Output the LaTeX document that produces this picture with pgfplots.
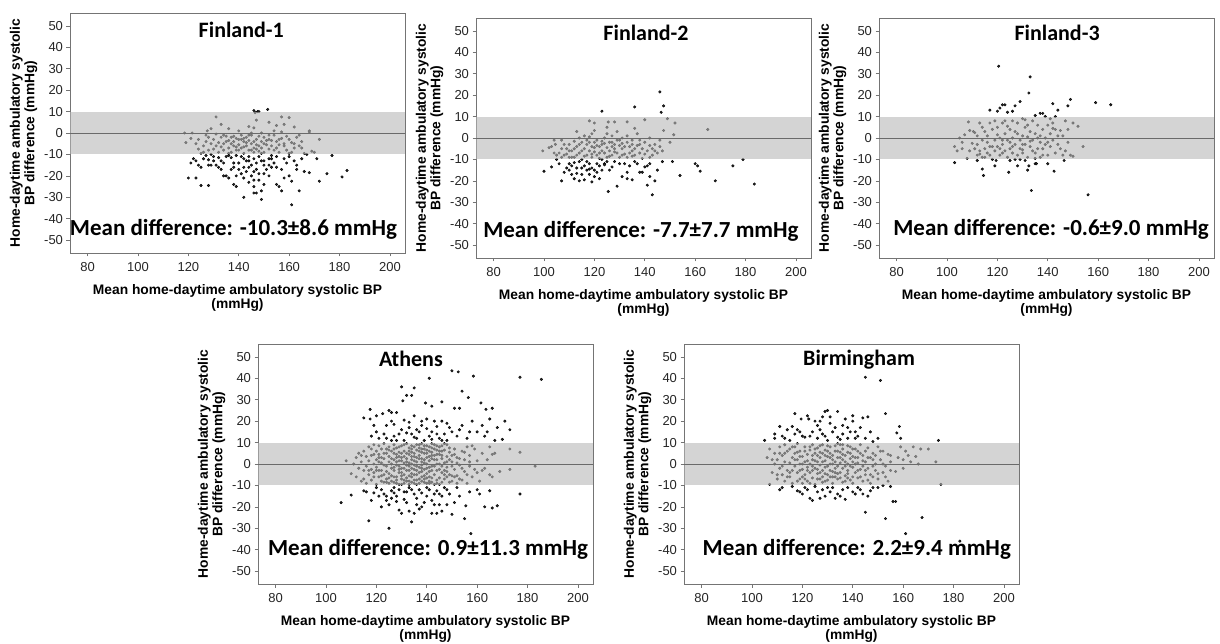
\documentclass[border=0pt]{standalone}
\usepackage{fontspec}
\setmainfont{Liberation Sans}
\newfontfamily\calibri{Carlito}
\usepackage{pgfplots}
\pgfplotsset{compat=1.18}

\definecolor{ptcol}{HTML}{2A2A2A}
\definecolor{bandcol}{HTML}{B8B8B8}
\definecolor{framecol}{HTML}{747474}
\definecolor{zerocol}{HTML}{6A6A6A}

\pgfplotsset{
  bland/.style={
    scale only axis, width=335pt, height=240pt,
    xmin=73, xmax=206, ymin=-56, ymax=56,
    clip marker paths=true,
    xtick={80,100,...,200}, ytick={-50,-40,...,50},
    axis line style={framecol, line width=0.8pt},
    tick pos=left, tick align=outside, major tick length=3.5pt,
    tick style={framecol, line width=0.6pt},
    tick label style={font=\fontsize{13}{15}\selectfont, text=black!85},
    xticklabel style={yshift=-2pt},
    /pgf/number format/assume math mode=true,
    xlabel={Mean home-daytime ambulatory systolic BP\\(mmHg)},
    ylabel={Home-daytime ambulatory systolic\\BP difference (mmHg)},
    label style={font=\bfseries\fontsize{13.8}{14.5}\selectfont, align=center},
    xlabel style={yshift=-6pt},
  },
  dk/.style={only marks, mark=*, mark size=1.3pt, mark options={draw=none, fill=ptcol}},
  band/.style={draw=none, fill=bandcol, fill opacity=0.6},
  zero/.style={zerocol, line width=0.9pt},
}
\tikzset{
  ttl/.style={font=\calibri\bfseries\fontsize{22}{24}\selectfont, anchor=base},
  mdiff/.style={font=\calibri\bfseries\fontsize{23}{25}\selectfont, anchor=base},
}
% points, then the +-10 band laid over them, then the zero line
\newcommand\bapanel[1]{%
  \addplot[dk] coordinates {#1};
  \addplot[band] coordinates {(73,-10)(206,-10)(206,10)(73,10)};
  \addplot[zero] coordinates {(73,0)(206,0)};
}

\begin{document}
\begin{tikzpicture}
\useasboundingbox (0,0) rectangle (1220pt,-643pt);

% Finland-1
\begin{axis}[bland, at={(70pt,-13pt)}, anchor=north west]
\bapanel{
(146,10.5)(147.5,10)(146.5,9.5)(148,10)(151.5,11)(131,7.5)(157,7.5)(160,7.2)(133,4)(129,2)
(127.5,1)(147,6)(155,3.5)(158,4)(162,2.8)(144,3)(146,2.4)(154,1)(168,1)(118.5,0)
(121.5,0)(145,0)(149,0)(157,0.5)(164,-1)(172,-3)(168,0.5)
(119,-4.5)(121,-2.5)(123,-5)(124,-7.5)(125,-9.5)(126,-6)(127,-4)(128,-8)(129,-10)(130,-3)
(131,-6)(132,-9)(133,-2)(134,-5)(134,-8)(135,-1.5)(136,-3.5)(136,-7)(137,-2)(137,-9)
(138,-4)(138,-6)(139,-2.5)(139,-8)(140,-3)(140,-5.5)(141,-1)(141,-7)(142,-4)(142,-9.5)
(143,-2)(143,-6)(144,-3.5)(144,-8)(145,-1)(145,-5)(146,-7)(146,-9)(147,-3)(147,-5.5)
(148,-1.5)(148,-8.5)(149,-4)(149,-7)(150,-2)(150,-9)(151,-5.5)(152,-3)(152,-7.5)(153,-6)
(154,-1)(155,-7)(155,-4)(156,-9)(157,-2.5)(158,-6)(158,-5)(159,-8)(160,-3)(160,-9.5)
(161,-4.5)(162,-7)(163,-2)(164,-6)(165,-7)(166,-9.5)(167,-10)(169,-8.5)(170,-9)(127,-1)
(131,-0.5)(135,-4)(139,-6.5)(143,-4.5)(147,-7.5)(151,-3.5)(156,-5.5)(162,-5)(137,-5)(141,-3)
(145,-8)(133,-6.5)(129,-5)
(124,-3)(126,-9)(128,-2)(130,-7.5)(132,-4.5)(134,-1)(136,-9.5)(138,-1.5)(140,-8)(142,-6.5)
(144,-1)(146,-4)(148,-6)(150,-5)(152,-1)(154,-8)(156,-3)(159,-1.5)(161,-9)(165,-4)
(153,-3.5)(149,-9.5)(140,1)(136,2)(152,5)(142,-2.5)
(120,-21)(123,-21)(125,-24.5)(128,-24.5)(124,-15)(125,-16)(129,-15)(131,-15)(133,-13)(134,-20)
(135,-20)(137,-17)(138,-24)(139,-25)(138,-14)(140,-14)(142,-12)(142,-16)(143,-18)(144,-23)
(145,-20)(146,-22)(146,-28)(147,-28)(148,-19)(149,-27)(149,-31)(150,-24)(150,-19)(152,-15)
(153,-16)(155,-24)(156,-25)(157,-17)(157,-27)(160,-20)(161,-22.5)(161,-33.5)(163,-17)(164,-27)
(166,-18)(168,-18.5)(172,-22.5)(175,-19)(177,-10.5)(181,-20.5)(183,-17.5)(142,-30)(150,-13)(147,-14)
(153,-12)(126,-12)(127,-10.5)(130,-11)(132,-11.5)(134,-14)(136,-10.5)(137,-11.5)(139,-10.5)(141,-11)
(143,-13)(144,-11)(145,-15)(146,-12)(147,-17)(148,-11)(149,-13)(151,-17)(153,-10.5)(154,-14)
(155,-16)(158,-12)(160,-11)(163,-15)(165,-12)(122,-12)(123,-13)(128,-15)(136,-21)(140,-17)
(141,-19)(144,-16)(146,-25)(148,-22)(152,-20)(158,-21)(162,-13)(171,-12)(128,-12.5)(132,-16)
(138,-16)(133,-17)(135,-11)(139,-20)(142,-21)(144,-13)(146,-18)(150,-15)(152,-12)(155,-11)
(159,-14)(121,-14)(130,-13)
}
\node[ttl] at (axis cs:141,44.7) {Finland-1};
\node[mdiff] at (axis cs:137.9,-47.7) {Mean difference: -10.3±8.6 mmHg};
\end{axis}

% Finland-2
\begin{axis}[bland, at={(476pt,-18pt)}, anchor=north west]
\bapanel{
(146,21.5)(123,12.5)(136,14.5)(147.5,15)(146.5,12)(149,9)(140,8.5)(152,7)(165,4)(147.5,3.5)
(151.5,1.5)(136,4.5)(133,7.5)(128,7.5)(125.5,7.5)(118,8)(120,7)(125,5)(113,3)(120,3.5)
(99.5,-6)(103,-4)(104,-1)(104.5,-3)(105,-8)(107,-1)(107,-5)(108,-8)(109,-7.5)(110,-3)
(111,-6)(112,-9)(112,-1.5)(113,-4)(114,-7)(114,0)(115,-2)(115,-10)(116,-5)(116,1)
(117,-8)(117,-3)(118,-6)(118,0.5)(119,-4)(119,-9)(120,-2)(120,-6.5)(121,-1)(121,-8)
(122,-4)(122,-9.5)(123,-3)(123,-6)(124,0)(124,-7)(125,-4.5)(125,-9)(126,-2)(126,-6)
(127,1)(127,-8)(128,-3)(128,-5)(129,-1)(129,-7)(130,-3.5)(130,-9)(131,-5)(131,0)
(132,-7.5)(133,-2)(133,-9)(134,-4)(135,-6)(135,-1)(136,-8)(137,-3.5)(138,-1)(138,-7)
(139,-5)(140,-2)(141,-6)(142,-9)(142,0)(143,-5)(144,-3)(145,-7)(146,-1)(146,-4)
(105,-10)(109,-5)(113,-8)(117,-1)(121,-3.5)(125,2)(129,3)(133,1)(137,2)(110,-9)
(106,-7)(102,-4.5)(119,2)(123,-10)(127,-4)(131,-8)(135,-3)(139,-9.5)(143,-8)(150,-2)
(147,-6)
(104,-7)(108,-3)(110,-6)(112,-5)(114,-3)(116,-8.5)(118,-2)(120,-4.5)(122,-7)(124,-2.5)
(126,-8.5)(128,-6.5)(130,-1)(132,-4)(134,-7)(136,-5)(138,-3)(140,-7.5)(142,-3.5)(144,-6)
(115,-6)(119,-7.5)(123,-1.5)(127,-2)(131,-2.5)(135,-8.5)(111,-9)(107,-9)
(100,-15.5)(103,-13.5)(107,-20)(108,-16)(110,-12)(111,-17)(112,-19)(113,-14)(114,-20)(115,-17)
(116,-19.5)(117,-15)(118,-12)(119,-20.5)(120,-15)(121,-16)(122,-13)(124,-12)(125.5,-25)(126,-15)
(128,-11)(129,-22.5)(131,-18)(132,-12)(133,-16)(135,-19.5)(137,-12)(138,-16)(140,-13.5)(141,-22)
(142,-18)(143,-26.5)(144,-20)(145,-15)(147,-11)(151,-11)(154,-17.5)(160,-12)(162,-15.5)(168,-20)
(175,-13)(179,-10)(183.5,-21.5)(161,-13)(109,-14)(111,-13)(113,-16.5)(114,-11)(116,-13)(118,-17)
(119,-14)(120,-18)(112,-11.5)(106,-12)(122,-19)(127,-13.5)(130,-12)(133,-19)(139,-16)(141,-13)
(124,-12.5)(117,-11)(110,-15)(115,-14)(118,-14.5)(121,-12)(123,-15)(125,-11)(134,-13)(136,-11)
(142,-12)
}
\node[ttl] at (axis cs:140.5,45.5) {Finland-2};
\node[mdiff] at (axis cs:138.5,-46.3) {Mean difference: -7.7±7.7 mmHg};
\end{axis}

% Finland-3
\begin{axis}[bland, at={(879pt,-18pt)}, anchor=north west]
\bapanel{
(120.5,33.5)(133,28.5)(132.5,21)(122,15.5)(123,15.5)(124,12)(126,12.5)(120,12.5)(117,13)(129,17)
(127,15)(142,16)(148,15)(149,18)(159,16.5)(165,15.5)(137,11.5)(138,11.5)(135,10.5)(143,10)
(144,13)(121,14)(130,9)
(103,-4)(104,-6)(105,0)(106,-2)(107,1.5)(108,-9.5)(108.5,7.5)(109,-6)(110,-2.5)(110.5,3)
(111,2.5)(112,-8)(112,-3)(113,-6)(113,7)(114,-1)(114,-9)(115,3)(115,-5)(116,-7)
(116,1)(117,-4)(117,7)(118,-10)(118,4)(119,-1)(119,-6)(120,5)(120,-4)(121,-8)
(121,0)(122,-3)(122,7)(123,-6)(123,2)(124,-1)(124,-9)(125,4)(125,-5)(126,-7)
(126,0)(127,3)(127,-3)(128,-8)(128,7)(129,-1)(129,-5)(130,1)(130,-7)(131,5)
(131,-3)(132,-9)(132,0.5)(133,-4)(133,3)(134,-1)(134,8)(135,-7)(135,2)(136,-5)
(136,6)(137,-2)(137,-9)(138,4)(138,-5)(139,0)(139,-3)(140,6)(140,-8)(141,2)
(141,-4)(142,7)(142,-1)(143,4)(143,-7)(144,1)(145,3.5)(145,-5)(146,-8)(147,-6)
(147,8)(148,4)(149,-8)(150,7)(150,-8.5)(152,5.5)(154,-4)(119,8)(123,8)(127,-10)
(131,8.5)(135,-9.5)(139,10)(115,-9)(111,-5)(121,-5)(125,-2)(129,-10)(133,-1.5)(137,1)
(141,9)(113,-7.5)(117,-8)
(106,-5)(109,3.5)(112,1)(114,5)(116,-2)(118,-4)(120,1.5)(122,-7)(124,5.5)(126,-4)
(128,2)(130,-3)(132,6)(134,-6)(136,0)(138,-8)(140,-2)(142,4.5)(144,-3)(146,1)
(148,-2)(130,-5.5)(126,8)(122,-1)
(103,-11.5)(114,-14.5)(114.5,-17.5)(119,-13)(124.5,-16)(128,-13)(132,-15)(132.5,-13)(133.5,-24.5)(135,-12)
(140,-12)(142.5,-15.5)(156,-26.5)(119.5,-10.5)(125,-10.5)(131,-10.5)(135.5,-12)(146.5,-10.5)(112,-10.5)
}
\node[ttl] at (axis cs:143.7,45.3) {Finland-3};
\node[mdiff] at (axis cs:141.3,-45.7) {Mean difference: -0.6±9.0 mmHg};
\end{axis}

% Athens
\begin{axis}[bland, at={(258pt,-344pt)}, anchor=north west]
\bapanel{
(150,43.5)(152.5,43)(158.5,41)(141,40)(177,40.5)(185.5,39.5)(130,36)(135,35.5)(154,34)(132,32)
(134,32)(156.5,31)(130.5,29.5)(139.5,28.5)(146,29)(161.5,28.5)(142,27)(163.5,25.5)(166,26)(151,26)
(153,26)(117.5,25.5)(125,25)(122.5,23.5)(128,24)(120,22.5)(126,24)(135,22.5)(115,21.5)(117.5,21)
(131,20.5)(133,19.5)(140,21)(143,20)(146,20)(148,19)(158,20)(165,21)(171,20)(173,16)
(168,17)(124,18)(127,18.5)(138,18)(144,17.5)(130,16)(137,15)(142,15)(147,14)(150,15)
(160,15)(164,15)(129,14)(134,14)(141,13)(118,13)(121,12)(124,12)(128,11)(131,11)
(136,12)(139,11)(145,12)(148,11)(152,13)(156,12)(163,13)(167,11)(170,11.5)(133,17)
(138,20)(154,18)(126,20)(119,18)
(123,14)(127,13)(132,14.5)(136,16)(140,16.5)(144,14)(149,17)(153,16)(157,15)(162,18)
(135,12.5)(126,11)(120,15)(142,11.5)(146,11)
(108,1.5)(110,-4.5)(111,0)(112,3)(112,-6)(113,-2)(113,5)(114,-8)(114,1)(115,-3)
(115,6)(116,-9)(116,-1)(116,3.5)(117,8)(117,-5)(117,1.5)(118,-2.5)(118,4)(118,-7.5)
(119,9)(119,0)(119,-4)(120,6)(120,-9.5)(120,2)(120,-1.5)(121,-6)(121,4.5)(121,8.5)
(122,-3)(122,0.5)(122,7)(122,-8)(123,2.5)(123,-5)(123,9.5)(124,-1)(124,5)(124,-7)
(124,-3.5)(125,1)(125,8)(125,-9)(125,3.5)(126,-2)(126,6)(126,-5.5)(126,0)(127,9)
(127,-8.5)(127,2)(127,-3)(128,4.5)(128,-6)(128,7.5)(128,-0.5)(129,-9.5)(129,1.5)(129,5.5)
(129,-4)(130,8.5)(130,-2)(130,3)(130,-7)(131,0.5)(131,6)(131,-5)(131,-9)(132,2.5)
(132,9.5)(132,-3)(132,-6.5)(133,4.5)(133,-1)(133,7.5)(133,-8)(134,0)(134,5.5)(134,-4.5)
(134,2)(135,-7.5)(135,8)(135,-2.5)(135,3.5)(136,-9.5)(136,1)(136,6.5)(136,-5)(137,4)
(137,-1.5)(137,9)(137,-7)(138,2.5)(138,-3.5)(138,7)(138,-0.5)(139,-8.5)(139,5)(139,0.5)
(139,-5.5)(140,8.5)(140,-2)(140,3)(140,-6.5)(141,1.5)(141,6)(141,-9)(141,-3.5)(142,4)
(142,-1)(142,9.5)(143,-5)(143,2)(143,7)(144,-7.5)(144,0)(144,4.5)(145,-2.5)(145,8)
(145,-9.5)(146,2.5)(146,-4)(146,6)(147,0.5)(147,-7)(148,3.5)(148,-1.5)(148,9)(149,-5)
(149,5.5)(150,1)(150,-8)(151,-2.5)(151,7)(152,3)(152,-5.5)(153,-0.5)(154,6)(154,-7.5)
(155,2)(155,-3.5)(156,8)(156,-9)(157,-1)(157,4)(158,-6)(159,7)(160,1.5)(160,-4)
(161,-8)(162,5)(163,-2)(165,-5)(165,8)(166,4.5)(166,-6)(167,5)(169,-3.5)(173,7)
(173,-2.5)(183,-1)(177,5.5)(130,-4)(134,-6)(138,5.5)(142,-6.5)(136,3)(132,-0.5)(128,1)
(140,0)(144,-3)(126,-8)(124,7)(122,3)(146,8.5)(148,-6)(150,4)(152,-9)
(131,3.5)(133,-3)(135,1.5)(137,-4)(139,2)(141,-1.5)(143,4)(129,-1)(127,5)(125,-4.5)
(123,-0.5)(121,1)(134,8.5)(136,-7.5)(138,9.5)(140,-9)(142,2.5)(144,6.5)(146,-1)(148,1)
(132,5)(130,-5.5)(128,-7.5)(134,-8.5)(136,9)(138,-6)(140,5)(142,7.5)(144,-9)(133,0.5)
(137,6)(139,-2.5)(141,3.5)(135,-5)(131,-2)(129,8)(127,-6)(145,4.5)(147,-3)(149,2)
(114,4)(115,-7)(117,-3)(118,7)(119,-6)(120,-3)(121,3)(122,-5.5)(123,5)(124,-8.5)
(125,6.5)(126,2.5)(127,-1.5)(128,3)(128,-9)(129,-2.5)(130,1.5)(130,5)(131,-7.5)(131,9)
(132,-8)(132,1)(133,-5.5)(133,6)(134,3.5)(134,-2)(135,5)(135,-9)(136,-1)(136,-3)
(137,2.5)(137,7.5)(138,-8)(138,1)(139,7)(139,-7)(140,-4.5)(140,6.5)(141,-6)(141,8)
(142,-3)(142,5.5)(143,-9.5)(143,-1)(144,2)(144,8.5)(145,-6.5)(145,0)(146,-8.5)(146,4)
(147,-5)(147,6.5)(148,-3.5)(149,-8.5)(149,7.5)(150,-5.5)(150,-1)(151,4.5)(151,-6)(152,0.5)
(153,2.5)(153,-7)(154,-2)(155,5.5)(156,-5)(157,1)(158,8.5)(159,-2.5)(162,-3)(164,2)
(129,3.5)(127,7)(125,-6.5)(123,-8.5)(121,-3)(119,4.5)(133,-9.5)(135,-0.5)(137,-9)(139,8.5)
(141,-8)(143,9)(145,6)(147,9.5)(130,-9.5)(134,7)(138,-2)(142,-8.5)
(106,-18)(110,-14.5)(115,-12.5)(117,-26.5)(125,-30)(122,-20)(126,-16)(128,-17.5)(130,-23)(133,-22)
(134,-27)(136,-16)(138,-20)(140,-15)(142,-23)(143,-19)(144,-23)(146,-22)(148,-19)(150,-23.5)
(155,-25.5)(155.5,-19.5)(157.5,-32.5)(161,-14)(163,-20)(166,-20.5)(168,-19.5)(177,-14)(160,-12)(165,-12.5)
(148,-12)(145,-14)(135,-14)(131,-13)(127,-11)(123,-14)(120,-11)(118,-17)(121,-15)(124,-15)
(127,-13.5)(129,-21.5)(132,-18)(137,-12)(139,-18)(141,-12)(143,-14)(147,-11)(152,-11)(137,-21)
(131,-16.5)(116,-13)(125,-19)(133,-11)(153,-15)(145,-19)
(119,-13.5)(122,-12)(126,-12.5)(129,-12)(132,-13)(134,-12)(136,-19)(138,-13.5)(140,-11)(142,-17)
(144,-12.5)(146,-15)(149,-14)(151,-18)(128,-15)(124,-17)(157,-13)(135,-23)
}
\node[ttl] at (axis cs:133.7,45.6) {Athens};
\node[mdiff] at (axis cs:140.5,-42.9) {Mean difference: 0.9±11.3 mmHg};
\end{axis}

% Birmingham
\begin{axis}[bland, at={(684pt,-344pt)}, anchor=north west]
\bapanel{
(145,40.5)(151,39)(153,23.5)(130,25)(129,24.5)(134,24.5)(117,23.5)(122,22.5)(128,22)(140,22.5)
(144,21.5)(146,22)(119.5,21)(122.5,21)(137,21)(140,20)(131,19)(136,18)(126,18)(133,17)
(116,17.5)(118,16)(111,17.5)(127,16)(124,15)(139,15)(141,15)(158.5,17.5)(157.5,14.5)(159,12)
(174,11)(105,11)(109,14)(113,12)(117,14)(120,13)(126,12)(130,11)(135,11.5)(138,12)
(141,12)(145,12)(148,10.5)(109,12)(115,11)(121,12.5)(128,14)
(112,13)(114,16)(119,15)(123,13)(125,20)(129,13)(132,15)(134,12.5)(136,14)(138,17)
(142,13)(143,17)(147,15)(150,12)(131,22)(127,20)
(106,3)(107,7)(108,-4)(109,0)(109,5)(110,-7)(110,2)(111,8)(111,-2)(112,-5)
(112,4)(113,1)(113,-8)(113,9)(114,-3)(114,6)(115,0.5)(115,-6)(116,3)(116,-9)
(116,8)(117,-1)(117,5)(118,-4)(118,2)(118,9.5)(119,-7)(119,0)(119,6)(120,-2.5)
(120,3.5)(120,-9)(121,8)(121,-5)(121,1)(122,4.5)(122,-1.5)(122,-8)(123,6.5)(123,0)
(123,-4)(124,2)(124,9)(124,-6.5)(125,-2)(125,5)(125,-9.5)(126,7.5)(126,1)(126,-4.5)
(127,3)(127,-7)(127,-0.5)(128,9)(128,5)(128,-3)(129,-8)(129,1.5)(129,6.5)(130,-5)
(130,3.5)(130,-1)(131,8)(131,0)(131,-6)(132,4)(132,-3.5)(132,-9)(133,6)(133,1)
(133,-2)(134,9.5)(134,-7)(134,3)(135,-4)(135,5.5)(135,0.5)(136,-8.5)(136,2)(136,7)
(137,-1)(137,4)(137,-5.5)(138,8.5)(138,0)(138,-3)(139,5)(139,-7.5)(139,2.5)(140,-1.5)
(140,7)(140,-9)(141,3)(141,-4)(142,6)(142,-6.5)(142,0.5)(143,9)(143,-2.5)(144,4)
(144,-8)(145,1)(145,-5)(146,7.5)(146,-2)(147,3)(147,-9)(148,-6)(148,5)(149,0)
(149,-3)(150,8)(150,-7)(151,2)(152,-4)(152,6)(153,-1)(154,4.5)(154,-8)(155,-3)
(155,1)(157,-3.5)(158,3)(159,8)(160,-2)(160,2)(161,6)(162,4)(163,1)(164,8)
(165,3.5)(166,0)(167,7)(170,7)(173,1)(126,4)(128,-6)(130,6)(132,0)(134,-4.5)
(136,4.5)(138,-6.5)(140,1)(124,-3)(122,1.5)(120,-6)(118,5.5)(144,-1)(146,-7.5)(148,2)
(133,-6)(129,-4.5)(127,8.5)(135,9)(131,3)
(108,2)(110,-5)(111,5)(112,-1)(114,-6)(115,7)(116,-3)(117,2)(118,-8)(119,3.5)
(120,0)(121,-7)(121,6)(122,-3)(123,8)(123,-9)(124,-1)(124,4)(125,1.5)(125,7)
(126,-2.5)(126,-7)(127,5.5)(127,-4)(128,1)(128,-8.5)(129,4)(129,-1.5)(130,8.5)(130,-7.5)
(131,-3)(131,5)(132,2)(132,-6)(133,8.5)(133,-4)(134,-1)(134,6)(135,3)(135,-6.5)
(136,-2)(136,9)(137,1)(137,-8)(138,5.5)(138,-4.5)(139,-1)(139,8)(140,3.5)(140,-6)
(141,0)(141,7)(142,-3)(142,3)(143,5)(143,-6)(144,1.5)(145,-3)(145,6)(146,3)
(147,-5)(148,-1)(149,4)(150,-4.5)(151,6)(152,0)(153,-6)(155,4)(119,-3)(117,8)
(115,-4)(113,5)
(107,-9.5)(111,-12)(118,-12.5)(120,-14)(123,-16)(124,-17)(126,-13)(127,-16)(129,-15)(131,-13)
(133,-16)(134,-14)(137,-16.5)(140,-13)(142,-11)(144,-14)(145,-22.5)(146,-15)(153,-25.5)(156,-17.5)
(157,-17.5)(161,-32.5)(167.5,-25)(175,-9.5)(152,-10)(148,-11)(121,-11)(130,-11)(136,-12)(125,-10.5)
(182.5,-36)(112,-11)(116,-10.5)(119,-13)(122,-12)(128,-12)(132,-11)(135,-15)(138,-11)(141,-14)
(143,-12)(147,-12.5)(150,-11)(155,-10.5)
}
\node[ttl] at (axis cs:142.5,46) {Birmingham};
\node[mdiff] at (axis cs:141.6,-42.9) {Mean difference: 2.2±9.4 mmHg};
\end{axis}
\end{tikzpicture}
\end{document}
